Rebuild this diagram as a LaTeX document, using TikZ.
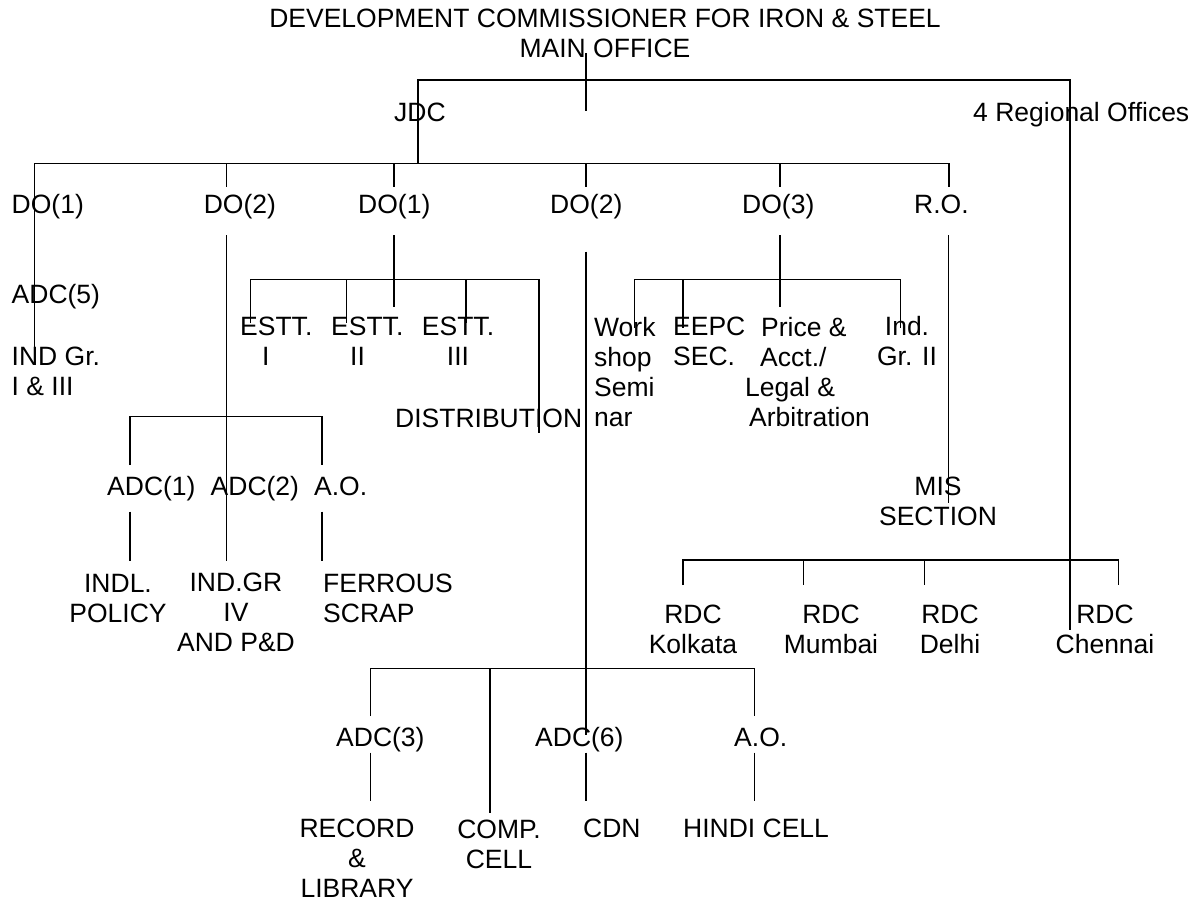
\documentclass[tikz,border=0pt]{standalone}
\usepackage{fontspec}
\setmainfont{Liberation Sans}
\usetikzlibrary{positioning}

\begin{document}
\begin{tikzpicture}[
  x=1pt, y=-1pt,
  every node/.style={font=\fontsize{26.5}{30}\selectfont, inner sep=0pt},
  unit/.style={anchor=base west, align=left},
  unitc/.style={anchor=base, align=center},
  link/.style={line width=1.1pt},
]
  \useasboundingbox (0,0) rectangle (1196,905);

  % Main office (multi-line nodes are placed at the baseline of their last line)
  \node[unitc] (dc) at (605,57.3) {DEVELOPMENT COMMISSIONER FOR IRON \& STEEL\\MAIN OFFICE};
  \node[unit] (jdc) at (394,121.7) {JDC};
  \node[unit] (rgn) at (973,121.7) {4 Regional Offices};

  % DO layer
  \node[unit] (do1a) at (11.5,213.3) {DO(1)};
  \node[unit] (do2a) at (203.6,213.3) {DO(2)};
  \node[unit] (do1b) at (358,213.3) {DO(1)};
  \node[unit] (do2b) at (550,213.3) {DO(2)};
  \node[unit] (do3) at (742,213.3) {DO(3)};
  \node[unit] (ro) at (914,213.3) {R.O.};

  % Under DO(1)
  \node[unit] (adc5) at (11.5,303.3) {ADC(5)};
  \node[unit] (indgr1) at (11.5,395.7) {IND Gr.\\I \& III};

  % Under DO(2)
  \node[unit] (adc1) at (107,495) {ADC(1)};
  \node[unit] (adc2) at (210.5,495) {ADC(2)};
  \node[unit] (ao1) at (314,495) {A.O.};
  \node[unitc] (indl) at (118,622.7) {INDL.\\POLICY};
  \node[unitc] (indgr4) at (236,651.7) {IND.GR\\IV\\AND P\&D};
  \node[unit] (scrap) at (323,622.7) {FERROUS\\SCRAP};

  % Under second DO(1)
  \node[unit] (estt1) at (240,365.7) {ESTT.\\\hspace*{22pt}I};
  \node[unit] (estt2) at (331,365.7) {ESTT.\\\hspace*{19pt}II};
  \node[unitc] (estt3) at (458,365.7) {ESTT.\\III};
  \node[unit] (dist) at (395,427.3) {DISTRIBUTION};

  % Under DO(3)
  \node[unit] (work) at (594,426) {Work\\shop\\Semi\\nar};
  \node[unit] (eepc) at (673,365.7) {EEPC\\SEC.};
  \node[unit] (price) at (745,426) {\hspace*{16pt}Price \&\\\hspace*{15pt}Acct./\\Legal \&\\\hspace*{4pt}Arbitration};
  \node[unitc] (indgr2) at (907,365.7) {Ind.\\Gr. II};

  % Under R.O.
  \node[unitc] (mis) at (938,525) {MIS\\SECTION};

  % Regional offices
  \node[unitc] (rdck) at (693,653.3) {RDC\\Kolkata};
  \node[unitc] (rdcm) at (831,653.3) {RDC\\Mumbai};
  \node[unitc] (rdcd) at (950,653.3) {RDC\\Delhi};
  \node[unitc] (rdcc) at (1105,653.3) {RDC\\Chennai};

  % Under second DO(2)
  \node[unit] (adc3) at (336,746) {ADC(3)};
  \node[unit] (adc6) at (535,746) {ADC(6)};
  \node[unit] (ao2) at (734,746) {A.O.};
  \node[unitc] (record) at (357,897.5) {RECORD\\\&\\LIBRARY};
  \node[unitc] (comp) at (499,868.5) {COMP.\\CELL};
  \node[unit] (cdn) at (583,837) {CDN};
  \node[unit] (hindi) at (683,837) {HINDI CELL};

  % Lines: main office -> JDC and regional offices
  \draw[link] (586,53) -- (586,110.7);
  \draw[link] (418,163.3) -- (418,80) -- (1070,80) -- (1070,630);

  % Lines: JDC -> DO layer
  \draw[link] (34.4,163.3) -- (949,163.3);
  \foreach \x in {226.6,394,586,780,949}
    \draw[link] (\x,163.3) -- (\x,186.7);
  \draw[link] (34.4,163.3) -- (34.4,353);

  % Lines: DO(2) branch
  \draw[link] (226.6,235) -- (226.6,560.7);
  \draw[link] (130,465) -- (130,416.7) -- (322,416.7) -- (322,465);
  \draw[link] (130,511.7) -- (130,560.7);
  \draw[link] (322,511.7) -- (322,560.7);

  % Lines: second DO(1) branch
  \draw[link] (394,235) -- (394,307.3);
  \draw[link] (250.7,323.3) -- (250.7,279.3) -- (539,279.3) -- (539,433.3);
  \foreach \x in {346.3,466}
    \draw[link] (\x,279.3) -- (\x,323.3);

  % Lines: second DO(2) branch
  \draw[link] (586,251.7) -- (586,735);
  \draw[link] (370.5,716) -- (370.5,668.3) -- (754.4,668.3) -- (754.4,716);
  \draw[link] (490,668.3) -- (490,813.3);
  \foreach \x in {370.5,586,754.4}
    \draw[link] (\x,752.7) -- (\x,800.7);

  % Lines: DO(3) branch
  \draw[link] (780,235) -- (780,307.3);
  \draw[link] (634.4,328) -- (634.4,279.3) -- (900.4,279.3) -- (900.4,328);
  \draw[link] (683,279.3) -- (683,328);

  % Lines: R.O. and regional offices
  \draw[link] (948.3,235) -- (948.3,503.3);
  \draw[link] (683,585) -- (683,560) -- (1118.6,560) -- (1118.6,585);
  \foreach \x in {803.6,924.5}
    \draw[link] (\x,560) -- (\x,585);

\end{tikzpicture}
\end{document}
